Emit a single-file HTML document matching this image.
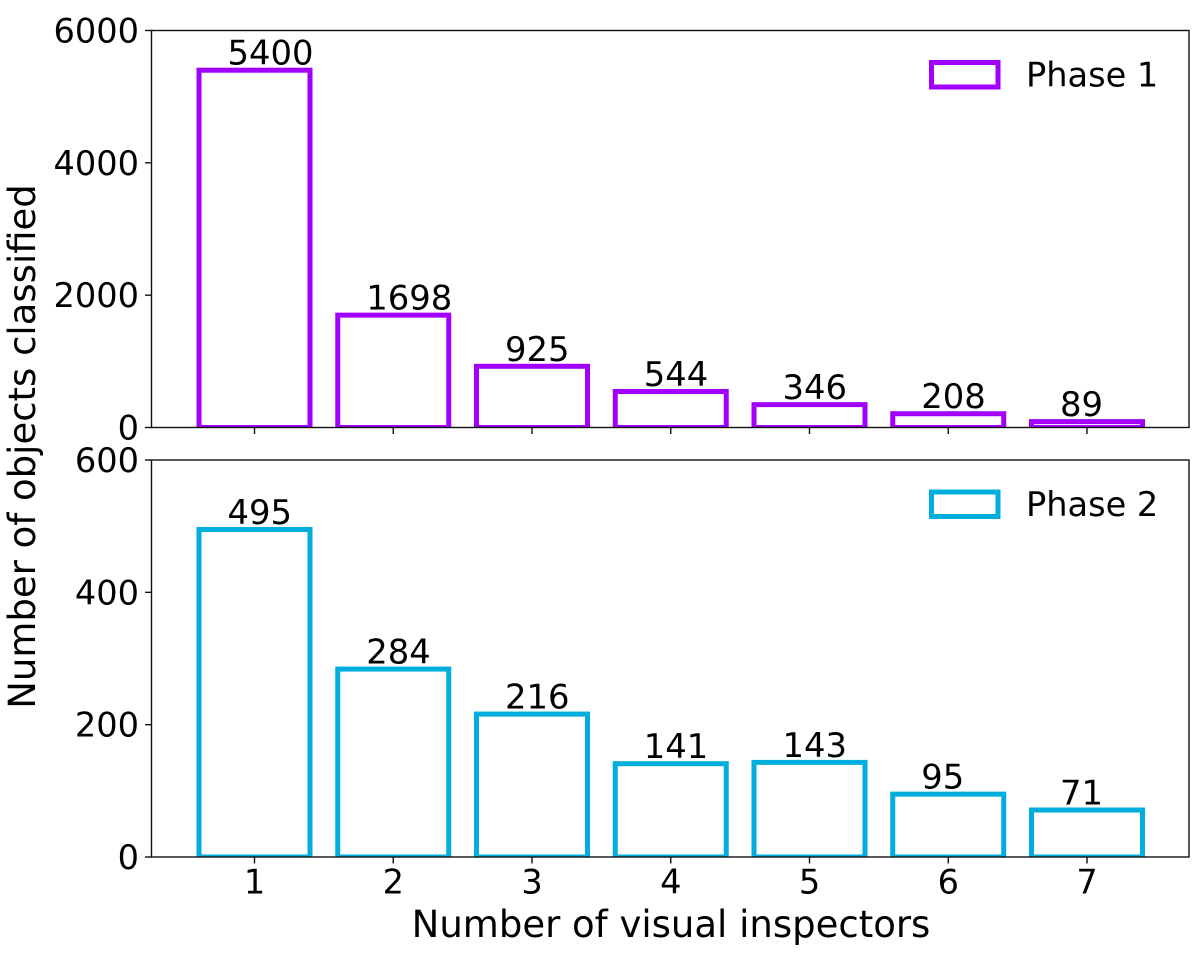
<!DOCTYPE html>
<html lang="en">
<head>
<meta charset="utf-8">
<title>Number of objects classified by number of visual inspectors</title>
<style>
html,body{margin:0;padding:0;background:#fff;}
svg{display:block;}
text{font-family:"DejaVu Sans","Liberation Sans",sans-serif;fill:#000;}
</style>
</head>
<body>
<svg id="chart" width="1200" height="959" viewBox="0 0 1200 959" xmlns="http://www.w3.org/2000/svg">
  <defs>
    <clipPath id="clip-top"><rect x="151.5" y="30.5" width="1037.5" height="397"/></clipPath>
    <clipPath id="clip-bottom"><rect x="151.5" y="460" width="1037.5" height="397"/></clipPath>
  </defs>
  <rect width="1200" height="959" fill="#fff"/>
  <g id="panels"></g>
  <text transform="translate(35 446.5) rotate(-90)" text-anchor="middle" font-size="37">Number of objects classified</text>
  <text x="671" y="937" text-anchor="middle" font-size="37">Number of visual inspectors</text>
</svg>
<script>
const categories = [1, 2, 3, 4, 5, 6, 7];
const phase1Values = [5400, 1698, 925, 544, 346, 208, 89];
const phase2Values = [495, 284, 216, 141, 143, 95, 71];
const phase1Ticks = [0, 2000, 4000, 6000];
const phase2Ticks = [0, 200, 400, 600];
const phase1Max = 6000;
const phase2Max = 600;

const NS = 'http://www.w3.org/2000/svg';
const root = document.getElementById('panels');

function make(tag, attrs, parent) {
  const el = document.createElementNS(NS, tag);
  for (const k in attrs) el.setAttribute(k, attrs[k]);
  parent.appendChild(el);
  return el;
}

function xScale(c) {
  return 254.5 + (c - 1) * 138.75;
}

function drawPanel(cfg) {
  const yScale = function (v) {
    return cfg.bottom - (v / cfg.max) * (cfg.bottom - cfg.top);
  };
  const left = 151.5, right = 1189;
  const barHalf = 55.5;

  const g = make('g', {}, root);
  
  

  const barsG = make('g', { 'clip-path': 'url(#' + cfg.clip + ')' }, g);
  
  

  cfg.values.forEach(function (v, i) {
    const cx = xScale(categories[i]);
    const bar = make('rect', {
      x: cx - barHalf,
      y: yScale(v),
      width: barHalf * 2,
      height: yScale(0) - yScale(v),
      fill: 'none',
      stroke: cfg.color,
      'stroke-width': 5
    }, barsG);
    
    

    const label = make('text', {
      x: cx - 27,
      y: yScale(v) - 5.5,
      'font-size': 33.8
    }, g);
    
    
    label.textContent = String(v);
  });

  const spine = make('rect', {
    x: left, y: cfg.top, width: right - left, height: cfg.bottom - cfg.top,
    fill: 'none', stroke: '#111', 'stroke-width': 1.4
  }, g);
  
  

  cfg.ticks.forEach(function (t) {
    const y = yScale(t);
    const tick = make('line', {
      x1: left - 6.5, x2: left, y1: y, y2: y, stroke: '#111', 'stroke-width': 1.4
    }, g);
    
    

    const label = make('text', {
      x: 139, y: y + 12, 'text-anchor': 'end', 'font-size': 33.6
    }, g);
    
    
    label.textContent = String(t);
  });

  categories.forEach(function (c) {
    const x = xScale(c);
    const tick = make('line', {
      x1: x, x2: x, y1: cfg.bottom, y2: cfg.bottom + 6.5, stroke: '#111', 'stroke-width': 1.4
    }, g);
    
    

    if (cfg.showXLabels) {
      const label = make('text', {
        x: x, y: cfg.bottom + 36.5, 'text-anchor': 'middle', 'font-size': 33.6
      }, g);
      
      
      label.textContent = String(c);
    }
  });

  const legend = make('g', {}, g);
  
  

  const swatch = make('rect', {
    x: 931.5, y: cfg.top + 32, width: 66.5, height: 24.5,
    fill: 'none', stroke: cfg.color, 'stroke-width': 5
  }, legend);
  
  

  const legendText = make('text', {
    x: 1026, y: cfg.top + 56, 'font-size': 33.6
  }, legend);
  
  
  legendText.textContent = cfg.legend;
}

drawPanel({
  key: 'phase-1', values: phase1Values, ticks: phase1Ticks, max: phase1Max,
  top: 30.5, bottom: 427.5, color: '#a100ff', clip: 'clip-top',
  legend: 'Phase 1', showXLabels: false
});
drawPanel({
  key: 'phase-2', values: phase2Values, ticks: phase2Ticks, max: phase2Max,
  top: 460, bottom: 857, color: '#00aedd', clip: 'clip-bottom',
  legend: 'Phase 2', showXLabels: true
});
</script>
</body>
</html>
